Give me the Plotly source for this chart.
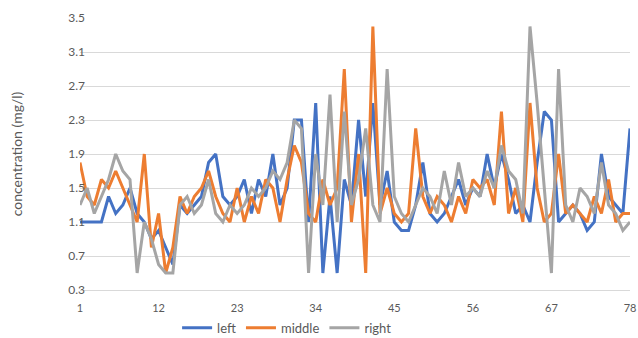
import plotly.graph_objects as go

# sample index 1..78
sample = list(range(1, 79))

left = [1.1, 1.1, 1.1, 1.1, 1.4, 1.2, 1.3, 1.5, 1.2, 1.1,
        0.9, 1.0, 0.8, 0.6, 1.3, 1.2, 1.3, 1.4, 1.8, 1.9,
        1.4, 1.3, 1.4, 1.6, 1.2, 1.6, 1.4, 1.9, 1.3, 1.5,
        2.3, 2.3, 1.1, 2.5, 0.5, 1.4, 0.5, 1.6, 1.3, 2.3,
        1.4, 2.5, 1.3, 1.7, 1.1, 1.0, 1.0, 1.3, 1.8, 1.2,
        1.1, 1.2, 1.4, 1.6, 1.3, 1.5, 1.4, 1.9, 1.5, 1.9,
        1.6, 1.2, 1.3, 1.1, 1.8, 2.4, 2.3, 1.1, 1.2, 1.3,
        1.2, 1.0, 1.1, 1.9, 1.4, 1.3, 1.2, 2.2]

middle = [1.8, 1.4, 1.3, 1.6, 1.5, 1.7, 1.5, 1.3, 1.1, 1.9,
          0.8, 1.2, 0.5, 0.8, 1.4, 1.2, 1.4, 1.5, 1.7, 1.4,
          1.2, 1.1, 1.5, 1.1, 1.4, 1.2, 1.6, 1.5, 1.1, 1.6,
          2.0, 1.8, 1.2, 1.1, 1.6, 1.3, 1.5, 2.9, 1.1, 1.9,
          0.5, 3.4, 1.2, 1.5, 1.2, 1.1, 1.2, 2.2, 1.4, 1.2,
          1.4, 1.3, 1.1, 1.4, 1.2, 1.6, 1.5, 1.6, 1.3, 2.4,
          1.2, 1.5, 1.1, 2.5, 1.5, 1.1, 1.2, 1.9, 1.2, 1.3,
          1.2, 1.1, 1.4, 1.2, 1.6, 1.1, 1.2, 1.2]

right = [1.3, 1.5, 1.2, 1.4, 1.6, 1.9, 1.7, 1.6, 0.5, 1.1,
         0.9, 0.6, 0.5, 0.5, 1.3, 1.4, 1.2, 1.3, 1.6, 1.2,
         1.1, 1.3, 1.2, 1.3, 1.5, 1.4, 1.5, 1.7, 1.6, 1.8,
         2.3, 2.2, 0.5, 1.9, 1.3, 2.6, 1.1, 2.4, 1.3, 1.6,
         2.2, 1.3, 1.1, 2.9, 1.4, 1.2, 1.1, 1.3, 1.5, 1.4,
         1.2, 1.7, 1.3, 1.8, 1.4, 1.5, 1.4, 1.7, 1.5, 2.0,
         1.7, 1.6, 1.2, 3.4, 2.5, 1.5, 0.5, 2.9, 1.3, 1.1,
         1.5, 1.4, 1.2, 1.8, 1.3, 1.2, 1.0, 1.1]

x_ticks = [1, 12, 23, 34, 45, 56, 67, 78]
y_ticks = [0.3, 0.7, 1.1, 1.5, 1.9, 2.3, 2.7, 3.1, 3.5]

series = [("left", left, "#4472C4"),
          ("middle", middle, "#ED7D31"),
          ("right", right, "#A5A5A5")]

fig = go.Figure()
for name, vals, color in series:
    fig.add_trace(go.Scatter(x=sample, y=vals, mode="lines", name=name,
                             line=dict(color=color, width=3)))

font_family = "Lato, 'Open Sans', sans-serif"
fig.update_layout(
    width=638, height=338,
    margin=dict(l=80, r=8, t=18, b=48, autoexpand=False),
    paper_bgcolor="white", plot_bgcolor="white",
    font=dict(family=font_family, color="#595959", size=11),
    showlegend=True,
    legend=dict(orientation="h", xref="container", yref="container",
                x=0.45, xanchor="center", y=0.03, yanchor="middle",
                font=dict(size=13, color="#595959"), itemwidth=30,
                tracegroupgap=0),
    xaxis=dict(range=[1, 78], tickvals=x_ticks, ticktext=[str(v) for v in x_ticks],
               showgrid=False, zeroline=False, showline=True, linecolor="#D9D9D9",
               linewidth=1, ticks="", ticklen=0, tickfont=dict(size=11),
               ticklabelstandoff=8),
    yaxis=dict(range=[0.3, 3.5], tickvals=y_ticks, ticktext=[f"{v:.1f}" for v in y_ticks],
               showgrid=True, gridcolor="#D9D9D9", gridwidth=1, zeroline=False,
               showline=False, ticks="", ticklen=0, tickfont=dict(size=12),
               ticklabelstandoff=-6,
               title=dict(text="concentration (mg/l)", font=dict(size=14, color="#595959"),
                          standoff=42)),
)

fig.write_html("out.html")
